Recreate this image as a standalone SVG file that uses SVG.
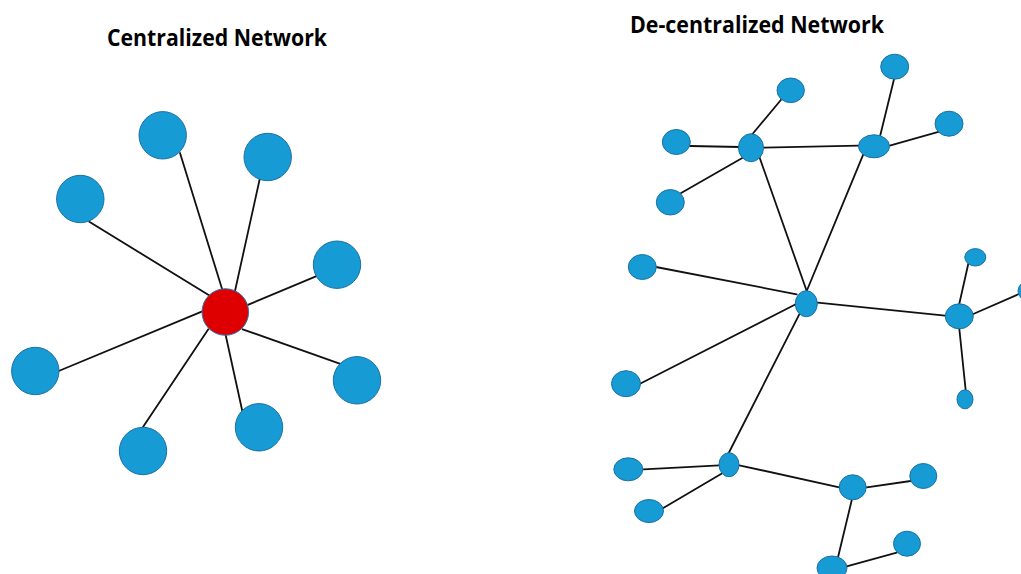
<svg xmlns="http://www.w3.org/2000/svg" width="1021" height="574" viewBox="0 0 1021 574">
<style>
.t{font-family:"Open Sans","Liberation Sans",sans-serif;font-weight:bold;font-size:23px;fill:#000}
.n{fill:#169BD4;stroke:#1A70A6;stroke-width:1}
.c{fill:#DE0000;stroke:#2A78B0;stroke-width:1}
.e{stroke:#111;stroke-width:1.8;fill:none;stroke-linecap:round}
</style>
<rect width="1021" height="574" fill="#fff"/>
<text class="t" x="107" y="46" textLength="220" lengthAdjust="spacingAndGlyphs">Centralized Network</text>
<text class="t" x="630" y="33" textLength="254" lengthAdjust="spacingAndGlyphs">De-centralized Network</text>
<g id="connectors">
<line class="e" x1="180" y1="153" x2="222.7" y2="291"/>
<line class="e" x1="260" y1="177.7" x2="235" y2="291"/>
<line class="e" x1="89.3" y1="221.7" x2="209" y2="295.3"/>
<line class="e" x1="317.7" y1="275.7" x2="246.7" y2="305.3"/>
<line class="e" x1="58.7" y1="371" x2="202.3" y2="311.3"/>
<line class="e" x1="341.7" y1="364.3" x2="242.7" y2="329.3"/>
<line class="e" x1="143" y1="427" x2="208.3" y2="329.3"/>
<line class="e" x1="242.3" y1="411" x2="225.7" y2="335.3"/>

<line class="e" x1="750" y1="137" x2="781.7" y2="99"/>
<line class="e" x1="690" y1="146" x2="740" y2="147"/>
<line class="e" x1="680.7" y1="193.3" x2="742.7" y2="157.7"/>
<line class="e" x1="763.3" y1="147.7" x2="858.7" y2="145.7"/>
<line class="e" x1="879.3" y1="139.3" x2="894" y2="79.3"/>
<line class="e" x1="889.7" y1="145.7" x2="939.3" y2="131.7"/>
<line class="e" x1="759.3" y1="156.7" x2="806.7" y2="291"/>
<line class="e" x1="863.3" y1="154.3" x2="806.7" y2="291"/>
<line class="e" x1="656" y1="267" x2="796.7" y2="294.3"/>
<line class="e" x1="640" y1="383.7" x2="796.7" y2="303.7"/>
<line class="e" x1="817.7" y1="302.7" x2="945" y2="315.7"/>
<line class="e" x1="959.3" y1="303.7" x2="968.3" y2="263.7"/>
<line class="e" x1="972.7" y1="314.3" x2="1018.3" y2="294.3"/>
<line class="e" x1="959.3" y1="328.7" x2="965.7" y2="390.3"/>
<line class="e" x1="799.3" y1="314.3" x2="728.7" y2="453"/>
<line class="e" x1="643.3" y1="469.3" x2="719.3" y2="465.3"/>
<line class="e" x1="663.3" y1="508" x2="722.7" y2="473"/>
<line class="e" x1="739.3" y1="465.3" x2="839.3" y2="487.3"/>
<line class="e" x1="866.7" y1="487.3" x2="910.7" y2="481"/>
<line class="e" x1="851.7" y1="500.3" x2="837.3" y2="560.3"/>
<line class="e" x1="846.7" y1="566.3" x2="896.7" y2="552.7"/>
</g>
<g id="central-hub"><circle class="c" cx="225.3" cy="312" r="23.3"/></g>
<g id="c-node-1"><circle class="n" cx="162.7" cy="135.3" r="23.7"/></g>
<g id="c-node-2"><circle class="n" cx="267.7" cy="157" r="23.7"/></g>
<g id="c-node-3"><circle class="n" cx="80.3" cy="199" r="23.7"/></g>
<g id="c-node-4"><circle class="n" cx="337" cy="264.7" r="23.7"/></g>
<g id="c-node-5"><circle class="n" cx="35.3" cy="371" r="23.7"/></g>
<g id="c-node-6"><circle class="n" cx="357" cy="380.3" r="23.7"/></g>
<g id="c-node-7"><circle class="n" cx="143" cy="451" r="23.7"/></g>
<g id="c-node-8"><circle class="n" cx="259" cy="427.3" r="23.7"/></g>

<g id="d-n1"><ellipse class="n" cx="790.7" cy="90.3" rx="13.7" ry="12.3"/></g>
<g id="d-n2"><ellipse class="n" cx="894.7" cy="66.7" rx="14" ry="12.5"/></g>
<g id="d-n3"><ellipse class="n" cx="676.3" cy="142" rx="14" ry="12.5"/></g>
<g id="d-hub1"><ellipse class="n" cx="751" cy="147.7" rx="12.5" ry="14"/></g>
<g id="d-hub2"><ellipse class="n" cx="874" cy="146.3" rx="15.5" ry="11.5"/></g>
<g id="d-n4"><ellipse class="n" cx="949" cy="123.7" rx="14" ry="12.5"/></g>
<g id="d-n5"><ellipse class="n" cx="670.3" cy="202.3" rx="14" ry="12.7"/></g>
<g id="d-n6"><ellipse class="n" cx="642.3" cy="267" rx="14" ry="12.5"/></g>
<g id="d-n7"><ellipse class="n" cx="975.3" cy="257.3" rx="10.5" ry="8.7"/></g>
<g id="d-n-edge"><ellipse class="n" cx="1029" cy="291" rx="11" ry="10"/></g>
<g id="d-hub3"><ellipse class="n" cx="806.3" cy="303.7" rx="11" ry="13"/></g>
<g id="d-hub4"><ellipse class="n" cx="959.3" cy="316.3" rx="14" ry="12.5"/></g>
<g id="d-n8"><ellipse class="n" cx="626" cy="383.7" rx="14.5" ry="13"/></g>
<g id="d-n9"><ellipse class="n" cx="965" cy="399.3" rx="8" ry="9.5"/></g>
<g id="d-hub5"><ellipse class="n" cx="729" cy="464.7" rx="10" ry="12"/></g>
<g id="d-n10"><ellipse class="n" cx="628.3" cy="469.3" rx="14.5" ry="11.5"/></g>
<g id="d-n11"><ellipse class="n" cx="649" cy="511" rx="14.5" ry="11.5"/></g>
<g id="d-hub6"><ellipse class="n" cx="852.7" cy="487.3" rx="13.5" ry="12.5"/></g>
<g id="d-n12"><ellipse class="n" cx="923.3" cy="476" rx="13.5" ry="12.5"/></g>
<g id="d-n13"><ellipse class="n" cx="907" cy="543.7" rx="13.5" ry="12.5"/></g>
<g id="d-n14"><ellipse class="n" cx="832" cy="568" rx="15" ry="12"/></g>
</svg>
